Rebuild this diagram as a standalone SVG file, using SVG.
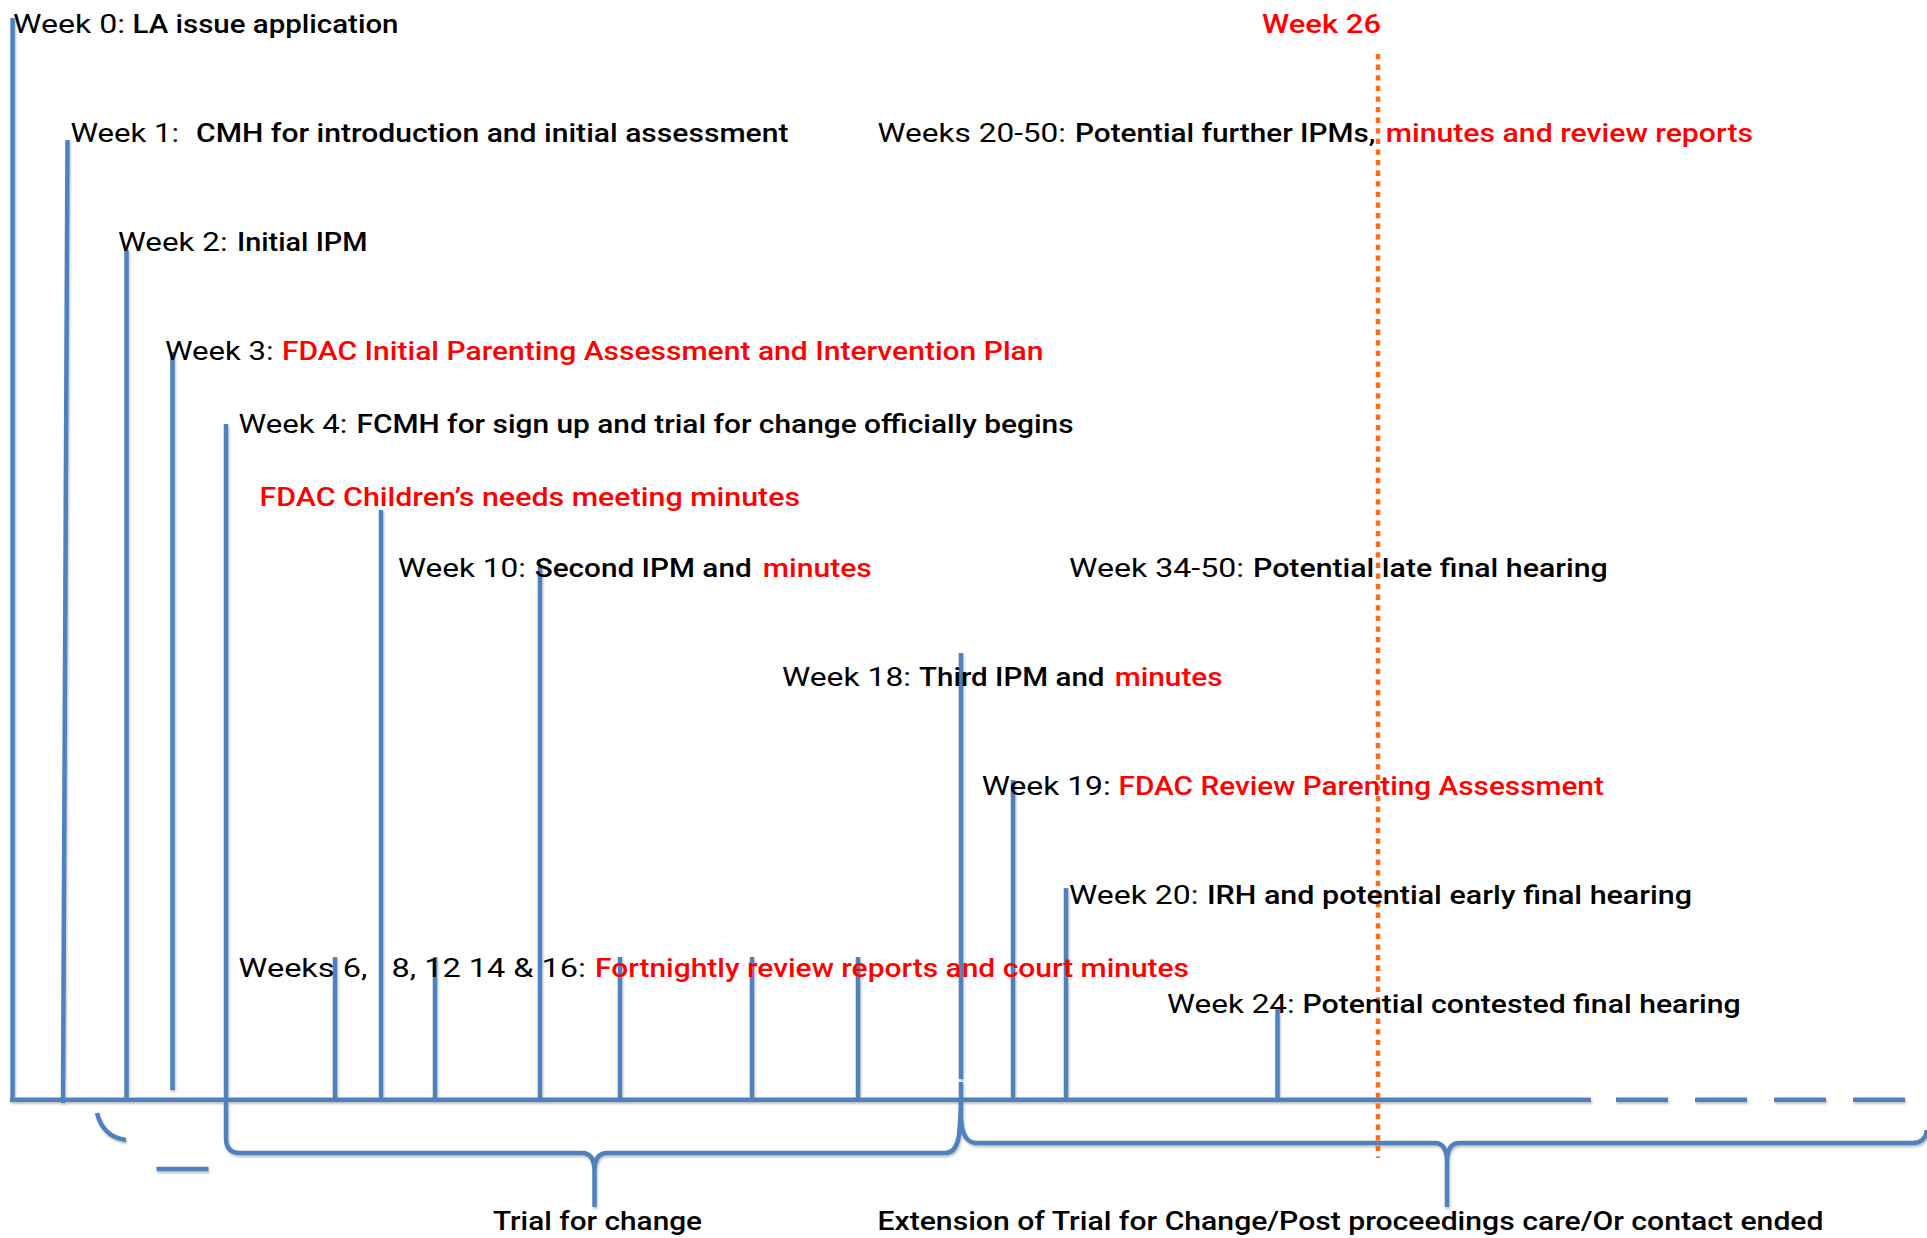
<svg xmlns="http://www.w3.org/2000/svg" width="1927" height="1238" viewBox="0 0 1927 1238">
<defs>
<filter id="sh" x="-5%" y="-5%" width="110%" height="110%">
<feDropShadow dx="1" dy="2" stdDeviation="1.2" flood-color="#000" flood-opacity="0.25"/>
</filter>
</defs>
<style>
text{font-size:25.5px;font-family:"Roboto","Liberation Sans",sans-serif;}
.r{font-weight:400;fill:#000;}
.m{font-weight:500;fill:#000;}
.red{font-weight:500;fill:#FF0000;}
.ln{stroke:#4F81BD;stroke-width:4.5;fill:none;}
.dot{stroke:#FF6A13;stroke-width:4.5;stroke-dasharray:5.3 5.3;fill:none;}
</style>
<rect width="1927" height="1238" fill="#fff"/>
<g id="connectors" filter="url(#sh)">
<line class="ln" x1="10" y1="1099.7" x2="1591" y2="1099.7"/>
<line class="ln" x1="1616" y1="1099.7" x2="1906" y2="1099.7" style="stroke-dasharray:52 27"/>
<line class="ln" x1="12.6" y1="18" x2="12.6" y2="1100"/>
<line class="ln" x1="67.5" y1="140" x2="63" y2="1103"/>
<line class="ln" x1="126.5" y1="250" x2="126.5" y2="1100"/>
<line class="ln" x1="172.5" y1="352" x2="172.5" y2="1090"/>
<line class="ln" x1="381" y1="510" x2="381" y2="1100"/>
<line class="ln" x1="335" y1="957" x2="335" y2="1100"/>
<line class="ln" x1="435" y1="957" x2="435" y2="1100"/>
<line class="ln" x1="540" y1="567" x2="540" y2="1100"/>
<line class="ln" x1="620" y1="957" x2="620" y2="1100"/>
<line class="ln" x1="752" y1="957" x2="752" y2="1100"/>
<line class="ln" x1="858" y1="957" x2="858" y2="1100"/>
<line class="ln" x1="961" y1="653" x2="961" y2="1079"/>
<line class="ln" x1="1013" y1="780" x2="1013" y2="1100"/>
<line class="ln" x1="1066" y1="888" x2="1066" y2="1100"/>
<line class="ln" x1="1277.5" y1="1007" x2="1277.5" y2="1100"/>
<path class="ln" d="M226,424 V1138 Q226,1153 240,1153 H582 Q594,1153 594.5,1170 V1207 M594.5,1170 Q595,1153 607,1153 H945 Q958,1153 959.5,1130 Q961,1112 961,1100"/>
<path class="ln" d="M961,1082 V1118 Q962,1143 977,1143 H1435 Q1446,1143 1447,1160 V1207 M1447,1160 Q1448,1143 1459,1143 H1913 Q1925,1143 1927,1130"/>
<path class="ln" d="M97,1113 Q103,1137 126,1140"/>
<line class="ln" x1="156.5" y1="1169" x2="208.5" y2="1169"/>
</g>
<line class="dot" id="week26-line" x1="1378" y1="54" x2="1378" y2="1158"/>
<g id="week0"><text class="r" x="13" y="33" textLength="112" lengthAdjust="spacingAndGlyphs">Week 0:</text><text class="m" x="132.5" y="33" textLength="266" lengthAdjust="spacingAndGlyphs">LA issue application</text></g>
<g id="week1"><text class="r" x="70.5" y="142" textLength="108.5" lengthAdjust="spacingAndGlyphs">Week 1:</text><text class="m" x="196" y="142" textLength="592.5" lengthAdjust="spacingAndGlyphs">CMH for introduction and initial assessment</text></g>
<g id="week2"><text class="r" x="118" y="251" textLength="109.5" lengthAdjust="spacingAndGlyphs">Week 2:</text><text class="m" x="237" y="251" textLength="130.5" lengthAdjust="spacingAndGlyphs">Initial IPM</text></g>
<g id="week3"><text class="r" x="165" y="360" textLength="108.5" lengthAdjust="spacingAndGlyphs">Week 3:</text><text class="red" x="282" y="360" textLength="761.5" lengthAdjust="spacingAndGlyphs">FDAC Initial Parenting Assessment and Intervention Plan</text></g>
<g id="week4"><text class="r" x="238.6" y="433" textLength="108.8" lengthAdjust="spacingAndGlyphs">Week 4:</text><text class="m" x="356.5" y="433" textLength="717" lengthAdjust="spacingAndGlyphs">FCMH for sign up and trial for change officially begins</text></g>
<g id="childrens-needs"><text class="red" x="259.6" y="506" textLength="540.5" lengthAdjust="spacingAndGlyphs">FDAC Children’s needs meeting minutes</text></g>
<g id="week10"><text class="r" x="398" y="577" textLength="128" lengthAdjust="spacingAndGlyphs">Week 10:</text><text class="m" x="534.7" y="577" textLength="217" lengthAdjust="spacingAndGlyphs">Second IPM and</text><text class="red" x="762.8" y="577" textLength="109" lengthAdjust="spacingAndGlyphs">minutes</text></g>
<g id="week34-50"><text class="r" x="1069" y="577" textLength="175" lengthAdjust="spacingAndGlyphs">Week 34-50:</text><text class="m" x="1253" y="577" textLength="354.7" lengthAdjust="spacingAndGlyphs">Potential late final hearing</text></g>
<g id="week18"><text class="r" x="782" y="686" textLength="129" lengthAdjust="spacingAndGlyphs">Week 18:</text><text class="m" x="919" y="686" textLength="185.5" lengthAdjust="spacingAndGlyphs">Third IPM and</text><text class="red" x="1114.7" y="686" textLength="108" lengthAdjust="spacingAndGlyphs">minutes</text></g>
<g id="week19"><text class="r" x="981.7" y="795" textLength="129" lengthAdjust="spacingAndGlyphs">Week 19:</text><text class="red" x="1118.6" y="795" textLength="485.2" lengthAdjust="spacingAndGlyphs">FDAC Review Parenting Assessment</text></g>
<g id="week20"><text class="r" x="1069" y="904" textLength="129.4" lengthAdjust="spacingAndGlyphs">Week 20:</text><text class="m" x="1207" y="904" textLength="485" lengthAdjust="spacingAndGlyphs">IRH and potential early final hearing</text></g>
<g id="weeks6-16"><text class="r" x="238.6" y="977" textLength="347.4" lengthAdjust="spacingAndGlyphs" xml:space="preserve">Weeks 6,   8, 12 14 &amp; 16:</text><text class="red" x="595" y="977" textLength="594" lengthAdjust="spacingAndGlyphs">Fortnightly review reports and court minutes</text></g>
<g id="week24"><text class="r" x="1167" y="1013" textLength="127.7" lengthAdjust="spacingAndGlyphs">Week 24:</text><text class="m" x="1302.5" y="1013" textLength="438.2" lengthAdjust="spacingAndGlyphs">Potential contested final hearing</text></g>
<g id="weeks20-50"><text class="r" x="877.5" y="142" textLength="188.5" lengthAdjust="spacingAndGlyphs">Weeks 20-50:</text><text class="m" x="1075" y="142" textLength="300.4" lengthAdjust="spacingAndGlyphs">Potential further IPMs,</text><text class="red" x="1385.7" y="142" textLength="367.3" lengthAdjust="spacingAndGlyphs">minutes and review reports</text></g>
<g id="week26"><text class="red" x="1262" y="33" textLength="119" lengthAdjust="spacingAndGlyphs">Week 26</text></g>
<g id="trial-for-change"><text class="m" x="493" y="1230" textLength="209" lengthAdjust="spacingAndGlyphs">Trial for change</text></g>
<g id="extension"><text class="m" x="877.5" y="1230" textLength="946" lengthAdjust="spacingAndGlyphs">Extension of Trial for Change/Post proceedings care/Or contact ended</text></g>
</svg>
